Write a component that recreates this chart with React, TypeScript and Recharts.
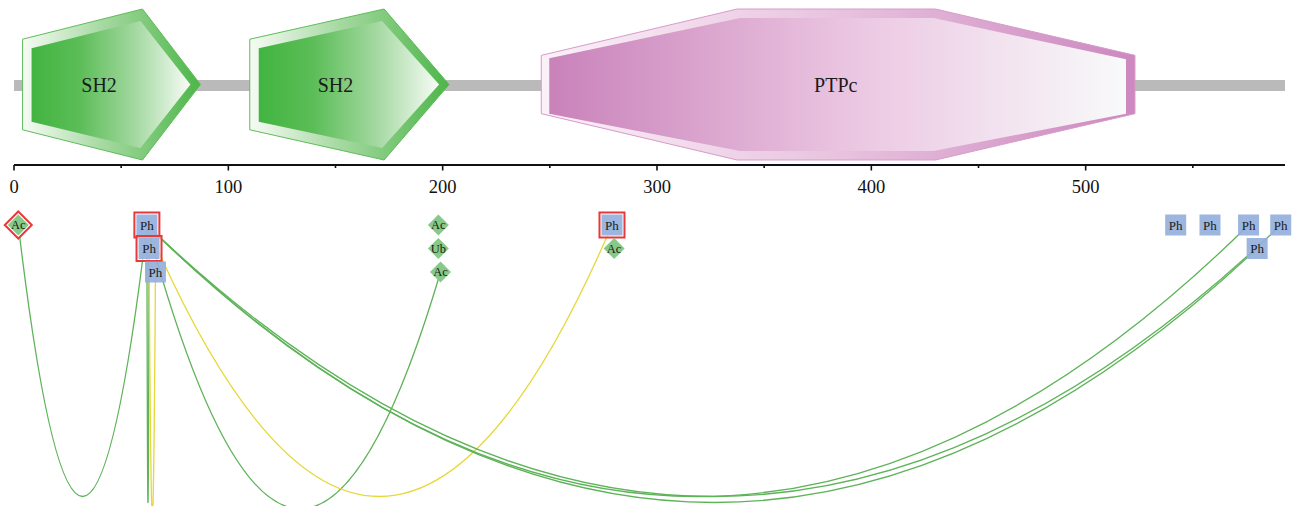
import React from "react";
import { ComposedChart, XAxis, YAxis, Line, Scatter, ReferenceArea } from "recharts";

const PROTEIN_LENGTH = 593;

// domains (residue ranges)
const domainNames = ["SH2", "SH2", "PTPc"];
const domainStarts = [4, 110, 246];
const domainEnds = [87, 203, 523];

// modification sites
const siteTypes = ["Ac", "Ph", "Ph", "Ph", "Ac", "Ub", "Ac", "Ph", "Ac", "Ph", "Ph", "Ph", "Ph", "Ph"];
const sitePositions = [2, 62, 63, 66, 198, 198, 199, 279, 280, 542, 558, 576, 580, 591];
const siteMarked = [true, true, true, false, false, false, false, true, false, false, false, false, false, false];

// links between sites (index into the site arrays)
const linkFrom = [0, 1, 2, 1, 1, 1, 1, 1];
const linkTo = [1, 2, 3, 6, 7, 11, 12, 13];
const linkKinds = ["green", "green", "yellow", "green", "yellow", "green", "green", "green"];

const axisTicks = [0, 50, 100, 150, 200, 250, 300, 350, 400, 450, 500, 550];

// layout
const W = 1293;
const H = 506;
const RULER_Y = 165;
const ROW_Y = [60, 83.5, 107];
const ARC_CTRL_Y = 768;
const FONT = "'Liberation Serif', 'DejaVu Serif', serif";
const LINK_COLORS: Record<string, string> = { green: "#5eb359", yellow: "#e6d83a" };

function assignRows(positions: number[], gap: number) {
  const rows: number[][] = [];
  return positions.map((p) => {
    let r = 0;
    while (rows[r] && rows[r].some((q) => Math.abs(q - p) < gap)) r++;
    (rows[r] ||= []).push(p);
    return r;
  });
}

const siteRows = assignRows(sitePositions, 10);

const markerData = sitePositions.map((pos, i) => ({
  pos,
  y: ROW_Y[siteRows[i]],
  type: siteTypes[i],
  marked: siteMarked[i],
}));

const linkData = linkFrom.map((a, i) => {
  const b = linkTo[i];
  return [
    { pos: sitePositions[a], y: ROW_Y[siteRows[a]] },
    { pos: sitePositions[b], y: ROW_Y[siteRows[b]] },
  ];
});

// quadratic arc hanging below the two end points
const arcCurve = (context: any) => {
  let pts: [number, number][] = [];
  return {
    areaStart() {},
    areaEnd() {},
    lineStart() {
      pts = [];
    },
    point(x: number, y: number) {
      pts.push([+x, +y]);
    },
    lineEnd() {
      if (pts.length < 2) return;
      const a = pts[0];
      const b = pts[pts.length - 1];
      context.moveTo(a[0], a[1]);
      context.quadraticCurveTo((a[0] + b[0]) / 2, ARC_CTRL_Y, b[0], b[1]);
    },
  };
};

const poly = (pts: number[][]) => pts.map((p) => p.join(",")).join(" ");

function DomainShape(props: any) {
  const { x, y, width: w, height: h, name, idx } = props;
  if (x == null || w == null) return null;
  const outerId = `dom-outer-${idx}`;
  const innerId = `dom-inner-${idx}`;
  if (name === "SH2") {
    const tr = x + 0.674 * w;
    const outer = [
      [x, y + 0.2 * h],
      [tr, y],
      [x + w, y + 0.5 * h],
      [tr, y + h],
      [x, y + 0.8 * h],
    ];
    const inner = [
      [x + 9, y + 0.2 * h + 9],
      [tr - 2, y + 12],
      [x + w - 10, y + 0.5 * h],
      [tr - 2, y + h - 12],
      [x + 9, y + 0.8 * h - 8],
    ];
    return (
      <g>
        <defs>
          <linearGradient id={outerId} x1="0" x2="1" y1="0" y2="0">
            <stop offset="0%" stopColor="#f6fbf5" />
            <stop offset="45%" stopColor="#a6d9a2" />
            <stop offset="100%" stopColor="#4db649" />
          </linearGradient>
          <linearGradient id={innerId} x1="0" x2="1" y1="0" y2="0">
            <stop offset="0%" stopColor="#42b441" />
            <stop offset="30%" stopColor="#5bbd57" />
            <stop offset="65%" stopColor="#a3d8a0" />
            <stop offset="100%" stopColor="#f7fcf6" />
          </linearGradient>
        </defs>
        <polygon points={poly(outer)} fill={`url(#${outerId})`} stroke="#5dbd58" strokeWidth={1} />
        <polygon points={poly(inner)} fill={`url(#${innerId})`} />
        <text
          x={x + 0.43 * w}
          y={y + 0.5 * h}
          textAnchor="middle"
          dominantBaseline="central"
          fontFamily={FONT}
          fontSize={20}
          fill="#1a1a1a"
        >
          {name}
        </text>
      </g>
    );
  }
  const a = x + 0.33 * w;
  const b = x + 0.664 * w;
  const outer = [
    [x, y + 0.307 * h],
    [a, y],
    [b, y],
    [x + w, y + 0.307 * h],
    [x + w, y + 0.693 * h],
    [b, y + h],
    [a, y + h],
    [x, y + 0.693 * h],
  ];
  const inner = [
    [x + 8, y + 0.307 * h + 3],
    [a + 3, y + 9],
    [b - 2, y + 9],
    [x + w - 9, y + 0.307 * h + 4],
    [x + w - 9, y + 0.693 * h],
    [b - 2, y + h - 9],
    [a + 3, y + h - 9],
    [x + 8, y + 0.693 * h],
  ];
  return (
    <g>
      <defs>
        <linearGradient id={outerId} x1="0" x2="1" y1="0" y2="0">
          <stop offset="0%" stopColor="#fbf1f8" />
          <stop offset="50%" stopColor="#e8c3df" />
          <stop offset="100%" stopColor="#cc88bf" />
        </linearGradient>
        <linearGradient id={innerId} x1="0" x2="1" y1="0" y2="0">
          <stop offset="0%" stopColor="#c982ba" />
          <stop offset="55%" stopColor="#ecc9e3" />
          <stop offset="100%" stopColor="#f8fafa" />
        </linearGradient>
      </defs>
      <polygon points={poly(outer)} fill={`url(#${outerId})`} stroke="#d79bc9" strokeWidth={1} />
      <polygon points={poly(inner)} fill={`url(#${innerId})`} />
      <text
        x={x + 0.496 * w}
        y={y + 0.5 * h}
        textAnchor="middle"
        dominantBaseline="central"
        fontFamily={FONT}
        fontSize={20}
        fill="#1a1a1a"
      >
        {name}
      </text>
    </g>
  );
}

function SiteMarker(props: any) {
  const { cx, cy, payload } = props;
  if (cx == null || cy == null) return null;
  const label = payload.type;
  if (label === "Ph") {
    return (
      <g>
        {payload.marked && (
          <rect x={cx - 12.5} y={cy - 12.5} width={25} height={25} fill="#fff" fillOpacity={0.6} stroke="#e8393a" strokeWidth={2} />
        )}
        <rect x={cx - 10.5} y={cy - 10.5} width={21} height={21} fill="#94b0dc" fillOpacity={0.92} />
        <text
          x={cx}
          y={cy + 4.5}
          textAnchor="middle"
          fontFamily={FONT}
          fontSize={13}
          fill="#1a1a1a"
        >
          {label}
        </text>
      </g>
    );
  }
  const r = 10.5;
  const diamond = (s: number) => poly([[cx, cy - s], [cx + s, cy], [cx, cy + s], [cx - s, cy]]);
  return (
    <g>
      {payload.marked && <polygon points={diamond(13.5)} fill="#fff" stroke="#e8393a" strokeWidth={2} />}
      <polygon points={diamond(r)} fill="#87c987" />
      <text x={cx} y={cy + 4} textAnchor="middle" fontFamily={FONT} fontSize={12.5} fill="#1a1a1a">
        {label}
      </text>
    </g>
  );
}

function RulerTick(props: any) {
  const { x, y, payload } = props;
  const major = payload.value % 100 === 0;
  return (
    <g>
      <line x1={x} y1={y} x2={x} y2={y + (major ? 5.5 : 3)} stroke="#111" strokeWidth={1.6} />
      {major && (
        <text x={x} y={y + 28} textAnchor="middle" fontFamily={FONT} fontSize={18.5} fill="#111">
          {payload.value}
        </text>
      )}
    </g>
  );
}

export default function App() {
  return (
    <div style={{ width: W, height: H, background: "#fff" }}>
      <style>{"body{margin:0;}"}</style>
      <ComposedChart width={W} height={H} margin={{ top: RULER_Y, right: 8, bottom: 0, left: 14 }}>
        <XAxis
          type="number"
          dataKey="pos"
          domain={[0, PROTEIN_LENGTH]}
          ticks={axisTicks}
          interval={0}
          orientation="top"
          mirror
          tickSize={0}
          tickMargin={0}
          tickLine={false}
          axisLine={{ stroke: "#111", strokeWidth: 2 }}
          tick={<RulerTick />}
        />
        <YAxis hide type="number" dataKey="y" domain={[0, H - RULER_Y]} reversed />
        <ReferenceArea
          x1={0}
          x2={PROTEIN_LENGTH}
          y1={-85}
          y2={-74}
          ifOverflow="visible"
          fill="#bababa"
          fillOpacity={1}
          stroke="none"
        />
        {domainNames.map((name, i) => (
          <ReferenceArea
            key={`dom-${i}`}
            x1={domainStarts[i]}
            x2={domainEnds[i]}
            y1={-156}
            y2={-5}
            ifOverflow="visible"
            shape={(p: any) => <DomainShape {...p} name={name} idx={i} />}
          />
        ))}
        {linkData.map((d, i) => (
          <Line
            key={`link-${i}`}
            data={d}
            dataKey="y"
            type={arcCurve as any}
            stroke={LINK_COLORS[linkKinds[i]]}
            strokeWidth={1.3}
            dot={false}
            activeDot={false}
            isAnimationActive={false}
          />
        ))}
        <Scatter data={markerData} shape={SiteMarker} isAnimationActive={false} />
      </ComposedChart>
    </div>
  );
}
